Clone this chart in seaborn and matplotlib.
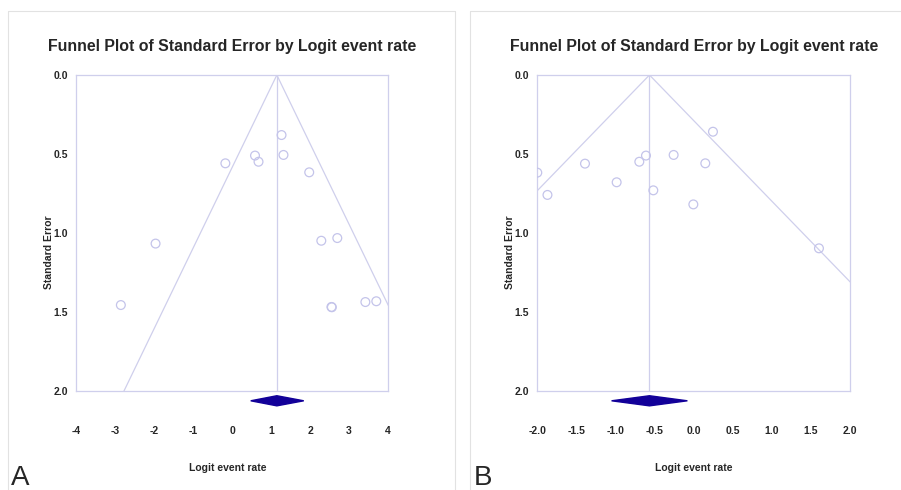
import numpy as np
import pandas as pd
import seaborn as sns
import matplotlib.pyplot as plt
from matplotlib.lines import Line2D

# Panel A: logit event rate vs standard error
a_rate = [1.27, 1.32, 0.59, 0.68, -0.17, 1.98, -1.96, 2.29, 2.70, -2.85, 2.55, 2.56, 3.42, 3.70]
a_se = [0.38, 0.506, 0.51, 0.549, 0.559, 0.616, 1.067, 1.049, 1.032, 1.456, 1.468, 1.470, 1.437, 1.432]
a_summary = (0.48, 1.15, 1.84)   # lower, pooled, upper
a_xticks = [-4, -3, -2, -1, 0, 1, 2, 3, 4]

# Panel B
b_rate = [-2.0, -1.87, -1.39, -0.985, -0.695, -0.61, -0.516, -0.256, -0.004, 0.149, 0.247, 1.603]
b_se = [0.618, 0.759, 0.561, 0.679, 0.549, 0.51, 0.730, 0.506, 0.819, 0.559, 0.359, 1.097]
b_summary = (-1.05, -0.565, -0.08)
b_xticks = [-2.0, -1.5, -1.0, -0.5, 0.0, 0.5, 1.0, 1.5, 2.0]

se_ticks = [0.0, 0.5, 1.0, 1.5, 2.0]

sns.set_style("white")
plt.rcParams['font.family'] = ['Liberation Sans', 'DejaVu Sans']

LAV = '#cfcfec'
PT = '#c4c4ea'
NAVY = '#120099'

fig = plt.figure(figsize=(9.01, 4.90), dpi=100)
W, H = 901, 490


def px_axes(left, top, right, bottom):
    return fig.add_axes([left / W, 1 - bottom / H, (right - left) / W, (bottom - top) / H])


def funnel(ax, rate, se, summary, xticks, xfmt, label_x, ylab_x):
    df = pd.DataFrame({'rate': rate, 'se': se})
    lo, c, hi = summary
    xmin, xmax = xticks[0], xticks[-1]

    # pseudo 95% limits around the pooled estimate
    se_grid = np.array([0.0, 2.0])
    lines = pd.DataFrame({
        'x': np.concatenate([c - 1.96 * se_grid, c + 1.96 * se_grid]),
        'y': np.concatenate([se_grid, se_grid]),
        'side': ['l', 'l', 'r', 'r'],
    })
    for side, g in lines.groupby('side'):
        ax.plot(g['x'], g['y'], color=LAV, lw=0.9)
    ax.plot([c, c], [0, 2], color=LAV, lw=0.9)

    sns.scatterplot(data=df, x='rate', y='se', ax=ax, s=40, marker='o',
                    facecolors='none', edgecolor=PT, linewidth=0.9, zorder=3)

    # summary diamond under the axis
    yd, hd = 2.062, 0.032
    ax.fill([lo, c, hi, c], [yd, yd - hd, yd, yd + hd], color=NAVY, clip_on=False, zorder=4)

    ax.set_xlim(xmin, xmax)
    ax.set_ylim(2.0, 0.0)
    ax.set_xticks(xticks)
    ax.set_xticklabels([xfmt.format(t) for t in xticks], fontweight='bold', fontsize=7.5)
    ax.set_yticks(se_ticks)
    ax.set_yticklabels(['%.1f' % t for t in se_ticks], fontweight='bold', fontsize=7.5)
    ax.tick_params(axis='x', direction='inout', length=4, width=0.8, color='#d8d8e8', pad=23)
    ax.tick_params(axis='y', length=0, pad=6)
    for sp in ax.spines.values():
        sp.set_color(LAV)
        sp.set_linewidth(0.9)

    ax.set_xlabel('Logit event rate', fontweight='bold', fontsize=7.5)
    ax.xaxis.set_label_coords(label_x, -0.228)
    ax.set_ylabel('Standard Error', fontweight='bold', fontsize=7.5)
    ax.yaxis.set_label_coords(ylab_x, 0.44)


ax1 = px_axes(76, 75, 388, 391)
funnel(ax1, a_rate, a_se, a_summary, a_xticks, '{:d}', 0.487, -0.072)

ax2 = px_axes(537.3, 75, 850, 391)
funnel(ax2, b_rate, b_se, b_summary, b_xticks, '{:.1f}', 0.499, -0.07)

title = 'Funnel Plot of Standard Error by Logit event rate'
fig.text(232 / W, 1 - 46 / H, title, ha='center', va='center', fontsize=11.4, fontweight='bold')
fig.text(694 / W, 1 - 46 / H, title, ha='center', va='center', fontsize=11.4, fontweight='bold')

fig.text(11 / W, 5 / H, 'A', ha='left', va='baseline', fontsize=20)
fig.text(474 / W, 5 / H, 'B', ha='left', va='baseline', fontsize=20)

# panel frames
frame = '#e2e2e2'
for x0, x1 in [(8, 455), (470, 905)]:
    fig.add_artist(Line2D([x0 / W, x1 / W], [1 - 11 / H, 1 - 11 / H], color=frame, lw=0.8))
    fig.add_artist(Line2D([x0 / W, x0 / W], [0, 1 - 11 / H], color=frame, lw=0.8))
    fig.add_artist(Line2D([x1 / W, x1 / W], [0, 1 - 11 / H], color=frame, lw=0.8))

fig.savefig('out.png', dpi=100)
